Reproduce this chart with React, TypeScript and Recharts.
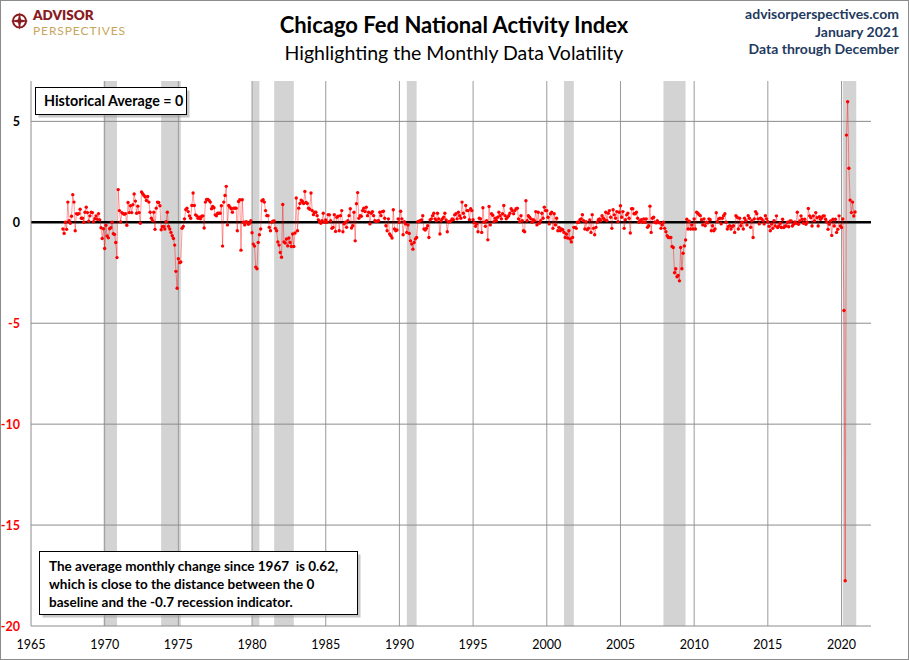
import React from "react";
import { LineChart, Line, XAxis, YAxis, ReferenceArea, ReferenceLine } from "recharts";

// CFNAI monthly values, first value = March 1967
const cfnai1967to1969 = [
  -0.33, -0.55, 0.0, -0.35, 1.0, 0.08, -0.05, 0.3, 1.37, 1.0,
  -0.42, 0.43, 0.4, 0.43, 0.65, 0.2, 0.2, 0.0, 0.5, 0.75, 0.48, 0.05,
  0.32, 0.5, 0.48, 0.03, 0.18, 0.32, 0.15, 0.43, 0.12, -0.27, -0.8, -0.32,
];

const cfnai1970s = [
  -1.3, -0.15, -0.68, -0.77, -0.32, -0.27, 0.0, -0.57, -0.6, -1.0, -1.75, 1.62,
  0.58, 0.02, 0.48, 0.43, 0.4, 0.43, -0.15, 0.98, 0.48, 0.82, 0.48, 0.87,
  1.4, 1.05, 0.45, 0.8, 0.48, -0.05, 1.5, 1.42, 1.33, 1.25, 1.08, 1.28,
  1.0, 0.5, 0.2, 0.08, 0.5, -0.35, 0.7, 1.0, 0.98, 0.82, -0.37, -0.22,
  -0.2, -0.33, 0.03, 0.5, -0.2, -0.33, -0.5, -0.67, -0.8, -1.13, -2.43, -3.27,
  -1.8, -2.0, -1.97, -0.3, -0.2, 0.17, 0.63, 0.7, 0.53, 0.32, 0.2, 0.83,
  1.45, 0.83, 0.37, 0.32, 0.2, 0.25, 0.17, 0.3, 0.32, -0.28, 1.0, 1.13,
  1.13, 1.08, 1.0, 0.67, 0.78, 0.72, 0.37, 0.32, 0.45, 0.45, 0.45, 0.82,
  -1.18, 1.0, 1.33, 1.78, -0.13, 0.83, 0.75, 0.67, 0.5, 0.7, 0.7, 0.7,
  -0.42, 1.03, 1.12, -1.38, 1.12, 0.0, -0.13, 0.03, 0.0, -0.1, -0.05, 0.08,
];

const cfnai1980s = [
  -0.52, -1.08, -1.18, -2.22, -2.3, -1.0, -0.62, -0.33, 1.07, 1.12, 1.0, 0.58,
  0.33, 0.33, -0.25, -0.42, 0.0, 0.05, 0.07, -0.3, -0.42, -0.97, -1.13, -1.5,
  -1.73, 0.88, -0.97, -1.03, -0.83, -1.17, -0.78, -1.0, -1.2, -0.58, -1.2, -0.53,
  1.2, -0.42, 0.7, 0.93, 1.1, 1.03, 0.93, 1.53, 0.98, 0.93, 0.7, 0.65,
  1.45, 0.58, 0.38, 0.5, 0.5, 0.33, 0.12, 0.03, -0.05, 0.08, 0.45, 0.0,
  0.12, 0.0, 0.38, 0.37, 0.08, -0.3, -0.25, 0.38, -0.45, 0.25, 0.3, -0.42,
  0.33, 0.58, -0.47, -0.08, 0.0, -0.25, 0.08, 0.33, 0.67, -0.28, -0.17, 0.5,
  -0.92, 0.92, 1.47, 0.2, 0.33, 0.3, 0.58, 0.7, 0.53, 0.75, 0.33, 0.5,
  -0.08, 0.45, 0.53, 0.33, 0.08, 0.05, 0.05, 0.08, 0.5, 0.33, 0.53, 0.55,
  0.2, -0.17, -0.42, 0.17, -0.58, -0.67, -0.78, 0.62, -0.33, -0.42, -0.38, 0.17,
];

const cfnai1990s = [
  0.0, 0.55, 0.17, -0.62, 0.03, -0.08, -0.5, -0.13, -0.55, -0.92, -1.08, -1.33,
  -1.0, -0.83, -0.75, 0.03, 0.05, 0.08, 0.12, 0.33, -0.33, -0.38, -0.3, -0.17,
  -0.75, 0.12, 0.17, 0.33, 0.45, 0.17, 0.08, 0.45, 0.17, -0.58, 0.08, 0.17,
  0.25, 0.45, 0.12, -0.47, 0.03, 0.03, 0.08, 0.17, 0.12, 0.37, 0.42, 0.17,
  0.5, 0.33, 0.2, 1.0, 0.45, 0.25, 0.83, 0.58, 0.58, 0.13, 0.67, 0.58,
  0.13, -0.03, -0.2, -0.08, -0.47, 0.2, 0.17, -0.5, 0.72, 0.0, -0.2, 0.08,
  -0.87, 0.78, -0.13, 0.42, 0.35, 0.03, 0.2, 0.08, 0.25, 0.5, 0.33, 0.17,
  0.42, 0.83, 0.33, 0.17, 0.25, 0.33, 0.45, 0.67, 0.58, 0.42, 0.58, 0.67,
  0.7, 0.17, 0.03, 0.33, 0.08, -0.42, -0.47, 1.07, 0.08, 0.33, 0.25, 0.17,
  0.0, 0.13, 0.08, 0.53, -0.13, 0.5, -0.05, 0.08, 0.45, 0.2, 0.75, 0.58,
];

const cfnai2000s = [
  0.58, 0.25, -0.08, 0.42, 0.5, -0.3, 0.42, -0.13, 0.2, -0.42, -0.25, -0.42,
  -0.33, -0.37, -0.5, -0.75, -0.58, -0.78, -0.42, -0.83, -0.97, -0.75, -0.25, -0.25,
  -0.3, 0.0, 0.0, 0.13, 0.17, 0.38, 0.08, -0.33, 0.03, -0.37, -0.3, 0.12,
  -0.5, 0.38, -0.3, -0.62, -0.25, 0.0, 0.13, 0.17, 0.08, 0.33, 0.2, 0.13,
  0.5, 0.08, 0.45, 0.58, 0.25, -0.3, 0.62, 0.37, 0.2, 0.53, 0.03, 0.5,
  0.82, 0.25, 0.53, -0.3, 0.13, 0.37, 0.45, 0.2, -0.53, 0.67, 0.67, 0.42,
  0.42, 0.5, 0.2, 0.0, 0.08, 0.13, 0.0, 0.17, 0.0, 0.17, -0.25, -0.17,
  0.8, -0.5, 0.2, 0.25, 0.0, -0.03, 0.08, 0.0, -0.03, -0.3, -0.13, 0.0,
  -0.3, -0.47, -0.67, -0.75, -0.75, -0.75, -1.2, -1.25, -2.5, -2.3, -2.7, -2.63,
  -2.9, -1.25, -2.3, -1.53, -1.17, -0.88, 0.15, -0.33, 0.05, -0.33, -0.13, -0.33,
];

const cfnai2010s = [
  0.17, -0.33, 0.5, 0.45, 0.38, 0.33, 0.13, -0.13, 0.17, -0.17, 0.0, -0.03,
  0.17, 0.13, -0.42, -0.17, -0.42, -0.33, 0.47, 0.03, 0.17, 0.2, -0.08, 0.2,
  0.33, 0.42, 0.0, -0.33, -0.2, -0.17, -0.33, -0.2, -0.17, -0.5, 0.33, 0.25,
  -0.33, 0.2, -0.17, 0.0, -0.33, 0.2, 0.08, -0.13, 0.33, 0.2, -0.25, 0.08,
  -0.75, 0.17, 0.53, 0.42, 0.17, -0.08, 0.2, 0.17, 0.08, -0.08, 0.33, 0.17,
  0.03, -0.2, -0.42, -0.08, -0.3, 0.08, -0.18, 0.32, -0.26, -0.18, -0.05, -0.26,
  0.15, -0.26, -0.18, -0.18, 0.0, -0.22, 0.07, 0.07, -0.18, -0.1, 0.02, -0.05,
  0.5, -0.1, 0.07, 0.32, 0.15, -0.05, 0.15, -0.1, 0.0, 0.68, 0.32, 0.23,
  -0.18, 0.32, 0.07, 0.48, 0.23, -0.18, 0.28, 0.15, 0.23, 0.32, 0.32, 0.15,
  0.02, -0.35, -0.1, 0.07, -0.65, 0.15, -0.18, 0.15, -0.5, -0.35, 0.32, -0.18,
];

const cfnai2020 = [-0.26, 0.16, -4.37, -17.76, 4.32, 5.97, 2.68, 1.1, 0.48, 1.0, 0.31, 0.51];

const recessionStarts = ["1969-12", "1973-11", "1980-01", "1981-07", "1990-07", "2001-03", "2007-12", "2020-02"];
const recessionEnds = ["1970-11", "1975-03", "1980-07", "1982-11", "1991-03", "2001-11", "2009-06", "2021-01"];

const xTicks = [1965, 1970, 1975, 1980, 1985, 1990, 1995, 2000, 2005, 2010, 2015, 2020];
const yTicks = [-20, -15, -10, -5, 0, 5];

const FONT = "Lato, 'Open Sans', sans-serif";

const toYear = (s: string) => {
  const [y, m] = s.split("-").map(Number);
  return y + (m - 1) / 12;
};

const allValues = [
  ...cfnai1967to1969,
  ...cfnai1970s,
  ...cfnai1980s,
  ...cfnai1990s,
  ...cfnai2000s,
  ...cfnai2010s,
  ...cfnai2020,
];

// first reading is March 1967
const chartData = allValues.map((v, i) => ({ t: 1967 + (2 + i) / 12, v }));

function YTick({ x, y, payload }: any) {
  const v = payload.value;
  return (
    <text x={x} y={y} dy={4.5} textAnchor="end" fontSize={12.5} fontWeight={700} fontFamily={FONT} fill={v < 0 ? "#ff0000" : "#000"}>
      {v}
    </text>
  );
}

function Logo() {
  return (
    <g>
      <circle cx={19.5} cy={21} r={6.5} fill="none" stroke="#8a1c1f" strokeWidth={2} />
      <polygon points="19.5,12 21,19.5 28.5,21 21,22.5 19.5,30 18,22.5 10.5,21 18,19.5" fill="#8a1c1f" />
      <text x={33} y={19.5} fontFamily={FONT} fontSize={13.5} fontWeight={800} fill="#8a1c1f">
        ADVISOR
      </text>
      <text x={33} y={34.5} fontFamily={FONT} fontSize={12} fontWeight={400} fill="#c8a65c" letterSpacing={0.9}>
        PERSPECTIVES
      </text>
    </g>
  );
}

function Overlay() {
  const note = [
    "The average monthly change since 1967  is 0.62,",
    "which is close to the distance between the 0",
    "baseline and the -0.7 recession indicator.",
  ];
  return (
    <svg width={909} height={660} style={{ position: "absolute", left: 0, top: 0, pointerEvents: "none" }}>
      <rect x={0.5} y={0.5} width={908} height={659} fill="none" stroke="#8c8c8c" />
      <Logo />
      <text x={454} y={33} textAnchor="middle" fontFamily={FONT} fontSize={22} fontWeight={700} fill="#000">
        Chicago Fed National Activity Index
      </text>
      <text x={454} y={60} textAnchor="middle" fontFamily={FONT} fontSize={19.5} fill="#000">
        Highlighting the Monthly Data Volatility
      </text>
      <g fontFamily={FONT} fontSize={14} fontWeight={700} fill="#1f3a60" textAnchor="end">
        <text x={899} y={19}>advisorperspectives.com</text>
        <text x={899} y={37}>January 2021</text>
        <text x={899} y={54}>Data through December</text>
      </g>

      <rect x={38.5} y={90.5} width={151} height={27} fill="#9a9a9a" opacity={0.55} />
      <rect x={35.5} y={87.5} width={151} height={27} fill="#fff" stroke="#000" />
      <text x={44} y={106} fontFamily={FONT} fontSize={14.3} fontWeight={700} fill="#000">
        Historical Average = 0
      </text>

      <rect x={42.5} y={554.5} width={318} height={63} fill="#9a9a9a" opacity={0.55} />
      <rect x={39.5} y={551.5} width={318} height={63} fill="#fff" stroke="#000" />
      {note.map((line, i) => (
        <text key={i} x={49} y={570.5 + i * 18} fontFamily={FONT} fontSize={13.5} fontWeight={700} fill="#000" style={{ whiteSpace: "pre" }}>
          {line}
        </text>
      ))}
    </svg>
  );
}

export default function App() {
  return (
    <div style={{ position: "relative", width: 909, height: 660, background: "#fff" }}>
      <style>{"body{margin:0;}"}</style>
      <LineChart width={909} height={660} data={chartData} margin={{ top: 81, right: 38, bottom: 0, left: 0 }}>
        <XAxis
          dataKey="t"
          type="number"
          domain={[1965, 2022]}
          ticks={xTicks}
          allowDataOverflow
          height={34}
          tickLine={false}
          tickSize={6}
          tickMargin={8}
          axisLine={{ stroke: "#8c8c8c" }}
          tick={{ fill: "#000", fontSize: 12.5, fontFamily: FONT }}
        />
        <YAxis
          type="number"
          domain={[-20, 7]}
          ticks={yTicks}
          allowDataOverflow
          width={31}
          tickLine={false}
          tickSize={6}
          tickMargin={5}
          axisLine={{ stroke: "#8c8c8c" }}
          tick={<YTick />}
        />
        {recessionStarts.map((s, i) => (
          <ReferenceArea key={s} x1={toYear(s)} x2={toYear(recessionEnds[i])} y1={-20} y2={7} fill="#d3d3d3" fillOpacity={1} stroke="none" />
        ))}
        {xTicks.slice(1).map((yr) => (
          <ReferenceLine key={yr} x={yr} stroke="#9a9a9a" strokeWidth={1} />
        ))}
        {yTicks.filter((v) => v !== 0 && v !== -20).map((v) => (
          <ReferenceLine key={v} y={v} stroke="#8c8c8c" strokeWidth={1} />
        ))}
        <ReferenceLine y={0} stroke="#000" strokeWidth={2.6} />
        <Line
          dataKey="v"
          type="linear"
          stroke="#ff0000"
          strokeOpacity={0.4}
          strokeWidth={1}
          dot={{ r: 1.7, fill: "#ff0000", stroke: "none" }}
          activeDot={false}
          isAnimationActive={false}
        />
      </LineChart>
      <Overlay />
    </div>
  );
}
